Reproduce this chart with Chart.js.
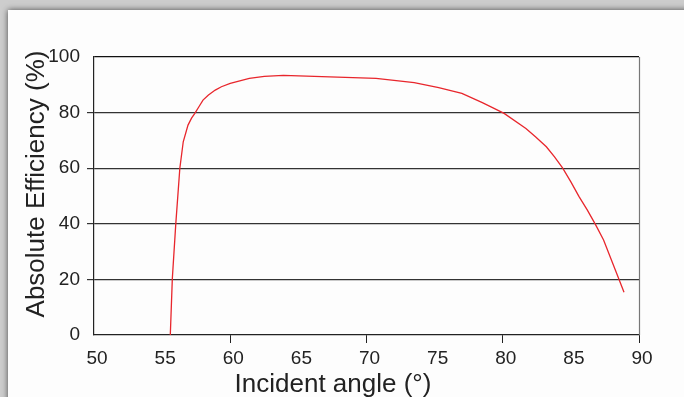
<!DOCTYPE html>
<html>
<head>
<meta charset="utf-8">
<script src="https://cdn.jsdelivr.net/npm/chart.js@4.4.1/dist/chart.umd.min.js"></script>
<style>
  html, body { margin: 0; padding: 0; }
  body { width: 684px; height: 397px; background: #cdcdcd; position: relative; overflow: hidden; }
  #card {
    position: absolute; left: 8px; top: 10px; width: 700px; height: 420px;
    background: #fdfdfd; box-shadow: 0 0 6px rgba(0,0,0,0.65);
  }
  #wrap { position: absolute; left: 0; top: 0; width: 684px; height: 397px; }
</style>
</head>
<body>
<div id="card"></div>
<div id="wrap"><canvas id="effChart" width="684" height="397"></canvas></div>
<script>
// incident angle (deg) vs absolute efficiency (%)
const angles = [55.6, 55.75, 56.0, 56.3, 56.55, 56.9, 57.16, 57.4, 57.7, 58.0, 58.4, 58.9, 59.35, 60.0,
                61.4, 62.5, 63.9, 70.7, 73.5, 75.3, 77.0, 78.5, 79.25, 80.1, 81.7, 82.4, 83.2, 83.8,
                84.4, 85.0, 85.6, 86.2, 86.8, 87.4, 88.5, 88.9];
const efficiency = [0, 20.4, 39.8, 60, 69.5, 75.5, 78.0, 79.7, 82.1, 84.5, 86.3, 88.1, 89.3, 90.5,
                    92.3, 93.0, 93.4, 92.3, 90.8, 89.0, 86.9, 83.6, 81.8, 79.7, 74.3, 71.3, 67.7, 64.1,
                    60, 55.1, 49.8, 45.0, 39.8, 34.2, 20.4, 15.4];
const xTicks = [50, 55, 60, 65, 70, 75, 80, 85, 90];
const yTicks = [0, 20, 40, 60, 80, 100];
const xMarked = [60, 70, 80, 90];   // only these get a tick mark

const FONT = "'Liberation Sans', Arial, sans-serif";
const INK = "#222222";

// axis titles + right frame edge
const frameAndTitles = {
    id: "frameAndTitles",
    afterDraw(chart) {
        const { ctx, chartArea } = chart;
        ctx.save();
        ctx.strokeStyle = "#777777";
        ctx.lineWidth = 1.2;
        ctx.beginPath();
        ctx.moveTo(chartArea.right + 0.5, chartArea.top);
        ctx.lineTo(chartArea.right + 0.5, chartArea.bottom);
        ctx.stroke();

        ctx.fillStyle = INK;
        ctx.font = "26px " + FONT;
        ctx.textAlign = "center";
        ctx.textBaseline = "alphabetic";
        ctx.fillText("Incident angle (°)", 333, 392);

        ctx.translate(44, 184);
        ctx.rotate(-Math.PI / 2);
        ctx.fillText("Absolute Efficiency (%)", 0, 0);
        ctx.restore();
    }
};

const ctx = document.getElementById("effChart").getContext("2d");
new Chart(ctx, {
    type: "line",
    data: {
        datasets: [{
            data: angles.map((a, i) => ({ x: a, y: efficiency[i] })),
            borderColor: "#e8262c",
            borderWidth: 1.3,
            pointRadius: 0,
            tension: 0,
            fill: false
        }]
    },
    options: {
        responsive: false,
        animation: false,
        layout: { padding: { left: 0, top: 57, right: 45, bottom: 0 } },
        plugins: { legend: { display: false }, tooltip: { enabled: false } },
        scales: {
            x: {
                type: "linear",
                min: 50, max: 90,
                afterFit: s => { s.height = 62; },
                afterBuildTicks: s => { s.ticks = xTicks.map(v => ({ value: v })); },
                ticks: { color: INK, font: { family: FONT, size: 19 }, padding: 4, labelOffset: 3, maxRotation: 0 },
                grid: {
                    drawOnChartArea: false,
                    tickLength: 8,
                    tickColor: c => xMarked.includes(c.tick.value) ? INK : "rgba(0,0,0,0)",
                    color: "rgba(0,0,0,0)"
                },
                border: { display: true, color: INK, width: 1.2 }
            },
            y: {
                min: 0, max: 100,
                afterFit: s => { s.width = 94; },
                afterBuildTicks: s => { s.ticks = yTicks.map(v => ({ value: v })); },
                ticks: { color: INK, font: { family: FONT, size: 19 }, padding: 7 },
                grid: {
                    tickLength: 7,
                    lineWidth: 1.2,
                    color: c => c.tick.value === 0 ? "rgba(0,0,0,0)" : (c.tick.value === 100 ? "#111111" : "#333333"),
                    tickColor: c => (c.tick.value === 0 || c.tick.value === 100) ? "rgba(0,0,0,0)" : "#333333"
                },
                border: { display: true, color: INK, width: 1.2 }
            }
        }
    },
    plugins: [frameAndTitles]
});
</script>
</body>
</html>
